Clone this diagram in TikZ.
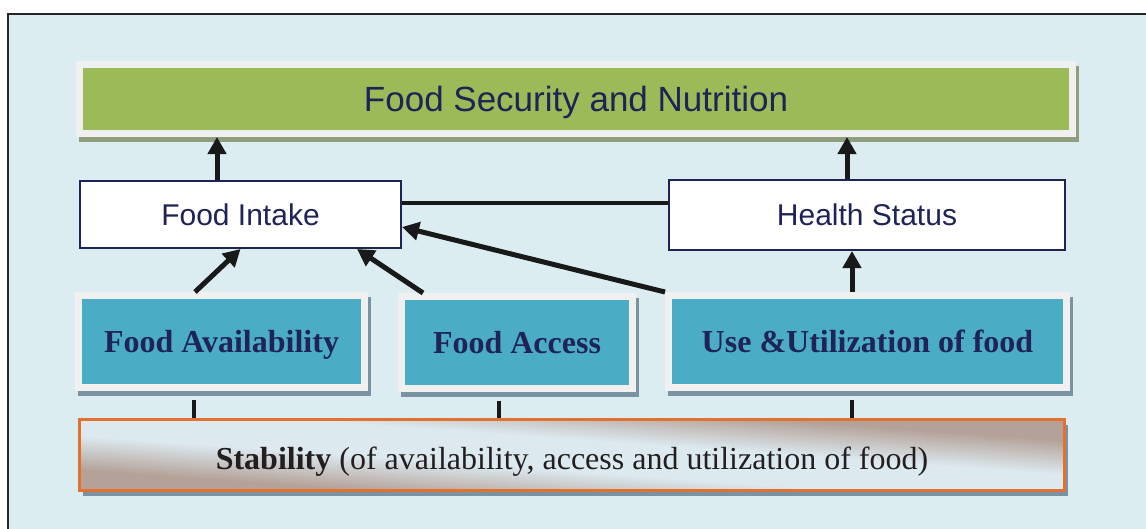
\documentclass[tikz,border=0pt]{standalone}
\usepackage{fontspec}
\setmainfont{Liberation Serif}
\setsansfont{Liberation Sans}
\usepackage{xcolor}
\usepackage{tikz}
\usetikzlibrary{
    positioning,
    arrows.meta,
    shadows,
    calc
}
\definecolor{framebg}{HTML}{DBEDF1}
\definecolor{navytext}{HTML}{1F2356}
\definecolor{stabtext}{HTML}{231F20}
\definecolor{tealfill}{HTML}{4BACC6}
\definecolor{greenfill}{HTML}{9BBB59}
\definecolor{paleborder}{HTML}{F0F0F0}
\definecolor{blueshadow}{HTML}{7A93A2}
\definecolor{greenshadow}{HTML}{8F9E7E}
\definecolor{stabedge}{HTML}{E2702E}
\definecolor{stablight}{HTML}{DCE9EF}
\definecolor{stabbrown}{HTML}{B4A299}
\pgfdeclareverticalshading{stabshade}{100bp}{
    color(0bp)=(stabbrown); color(31bp)=(stabbrown);
    color(44bp)=(stablight); color(56bp)=(stablight);
    color(69bp)=(stabbrown); color(100bp)=(stabbrown)}
\tikzset{
    frame/.style={
        draw=black!85, line width=2pt, fill=framebg
    },
    goalbox/.style={
        rectangle, fill=greenfill, draw=paleborder, line width=7pt,
        minimum width=993pt, minimum height=69pt, text depth=0pt,
        font=\sffamily\fontsize{35}{40}\selectfont, text=navytext,
        drop shadow={shadow xshift=2.5pt, shadow yshift=-5pt,
            fill=greenshadow, draw=greenshadow, line width=7pt, opacity=1}
    },
    statebox/.style={
        rectangle, fill=white, draw=navytext, line width=2pt,
        font=\sffamily\fontsize{30}{36}\selectfont, text=navytext
    },
    pillar/.style={
        rectangle, fill=tealfill, draw=paleborder, line width=7pt,
        minimum height=92pt, text depth=0pt,
        font=\bfseries\fontsize{32}{38}\selectfont, text=navytext,
        drop shadow={shadow xshift=2.5pt, shadow yshift=-5pt,
            fill=blueshadow, draw=blueshadow, line width=7pt, opacity=1}
    },
    stabbox/.style={
        rectangle, draw=stabedge, line width=3pt,
        shading=stabshade, shading angle=-4.12,
        minimum width=985pt, minimum height=71pt, text depth=0pt, text height=28pt,
        font=\fontsize{32}{38}\selectfont, text=stabtext,
        drop shadow={shadow xshift=3pt, shadow yshift=-5pt,
            fill=blueshadow, opacity=1}
    },
    arrow/.style={
        -{Triangle[width=18pt,length=17pt]}, line width=5pt, draw=black!90
    },
    link/.style={
        line width=4pt, draw=black!90
    }
}

\begin{document}
\begin{tikzpicture}[x=1pt, y=-1pt]
    \useasboundingbox (0,0) rectangle (1146,528);
    \draw[frame] (8,14) rectangle (1160,540);

    \node[goalbox] (fsn) at (576,99) {Food Security and Nutrition};
    \node[statebox, minimum width=321pt, minimum height=67pt] (intake) at (240.5,214.5) {Food Intake};
    \node[statebox, minimum width=396pt, minimum height=70pt] (health) at (867,215) {Health Status};

    \node[pillar, minimum width=286pt] (avail) at (221.5,341.5) {Food Availability};
    \node[pillar, minimum width=231pt] (access) at (517,342.5) {Food Access};
    \node[pillar, minimum width=398pt] (use) at (867.5,341.5) {Use \&Utilization of food};

    \node[stabbox] (stab) at (572,455)
        {\textbf{Stability} (of availability, access and utilization of food)};

    \draw[arrow] ([xshift=-23.5pt]intake.north) -- ([xshift=-23.5pt]intake.north |- fsn.south);
    \draw[arrow] ([xshift=-20pt]health.north) -- ([xshift=-20pt]health.north |- fsn.south);
    \draw[arrow] ([xshift=-26.5pt]avail.north) -- (intake.south);
    \draw[arrow] ([xshift=-94pt]access.north) -- ([xshift=116.5pt]intake.south);
    \draw[arrow] (use.north west) -- ([yshift=-12.5pt]intake.east);
    \draw[arrow] ([xshift=-15.5pt]use.north) -- ([xshift=-15.5pt]use.north |- health.south);
    \draw[link] ([yshift=11.5pt]intake.east) -- ([yshift=11.5pt]intake.east -| health.west);

    \draw[link] ([xshift=-27.5pt,yshift=-8.5pt]avail.south) -- ([xshift=-27.5pt]avail.south |- stab.north);
    \draw[link] ([xshift=-18pt,yshift=-8.5pt]access.south) -- ([xshift=-18pt]access.south |- stab.north);
    \draw[link] ([xshift=-15.5pt,yshift=-8.5pt]use.south) -- ([xshift=-15.5pt]use.south |- stab.north);
\end{tikzpicture}
\end{document}
